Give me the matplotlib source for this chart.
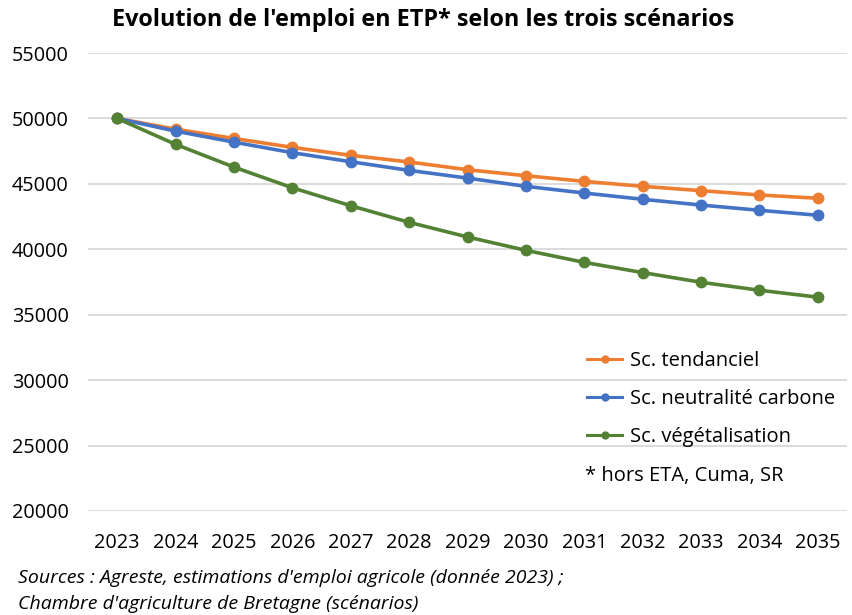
import matplotlib.pyplot as plt

# data
annees = ['2023', '2024', '2025', '2026', '2027', '2028', '2029',
          '2030', '2031', '2032', '2033', '2034', '2035']
tendanciel = [50000, 49180, 48470, 47790, 47180, 46670, 46080,
              45620, 45190, 44810, 44480, 44150, 43900]
neutralite = [50000, 49030, 48190, 47380, 46690, 46030, 45440,
              44810, 44300, 43820, 43380, 42980, 42600]
vegetalisation = [50000, 48020, 46280, 44700, 43330, 42060, 40940,
                  39920, 39000, 38220, 37480, 36870, 36340]
y_ticks = [20000, 25000, 30000, 35000, 40000, 45000, 50000, 55000]

plt.rcParams['font.family'] = ['Open Sans', 'DejaVu Sans']

fig = plt.figure(figsize=(8.52, 6.15), dpi=100)
ax = fig.add_axes([88 / 852, 1 - 511 / 615, (847 - 88) / 852, (511 - 53) / 615])

x = range(len(annees))
series = [
    (tendanciel, '#ED7D31', 'Sc. tendanciel'),
    (neutralite, '#4472C4', 'Sc. neutralité carbone'),
    (vegetalisation, '#548235', 'Sc. végétalisation'),
]
for vals, col, lab in series:
    ax.plot(x, vals, color=col, lw=2.6, marker='o', markersize=7.5, label=lab)

ax.set_xlim(-0.5, len(annees) - 0.5)
ax.set_ylim(20000, 55000)
ax.set_yticks(y_ticks)
ax.set_xticks(list(x))
ax.set_xticklabels(annees)
ax.tick_params(length=0, labelsize=14.3, colors='#000000')
ax.tick_params(axis='x', pad=16)
ax.tick_params(axis='y', pad=14)
ax.grid(axis='y', color='#d9d9d9', lw=1.3)
ax.set_axisbelow(True)
for s in ax.spines.values():
    s.set_visible(False)

fig.text(0.497, 0.968, "Evolution de l'emploi en ETP* selon les trois scénarios",
         ha='center', va='center', fontsize=16.8, fontweight='bold')

leg = ax.legend(loc='upper left', bbox_to_anchor=(587 / 852, 1 - 351 / 615),
                bbox_transform=fig.transFigure, frameon=False, fontsize=14.5,
                handlelength=1.75, handletextpad=0.4, labelspacing=0.9,
                borderaxespad=0, borderpad=0)
for h in leg.get_lines():
    h.set_markersize(5)
    h.set_linewidth(2.2)

fig.text(585 / 852, 1 - 476 / 615, '* hors ETA, Cuma, SR', ha='left', va='center',
         fontsize=14.5)

fig.text(18 / 852, 1 - 578 / 615,
         "Sources : Agreste, estimations d'emploi agricole (donnée 2023) ;",
         ha='left', va='center', fontsize=14, style='italic')
fig.text(18 / 852, 1 - 604 / 615, "Chambre d'agriculture de Bretagne (scénarios)",
         ha='left', va='center', fontsize=14, style='italic')

fig.savefig('out.png', dpi=100)
